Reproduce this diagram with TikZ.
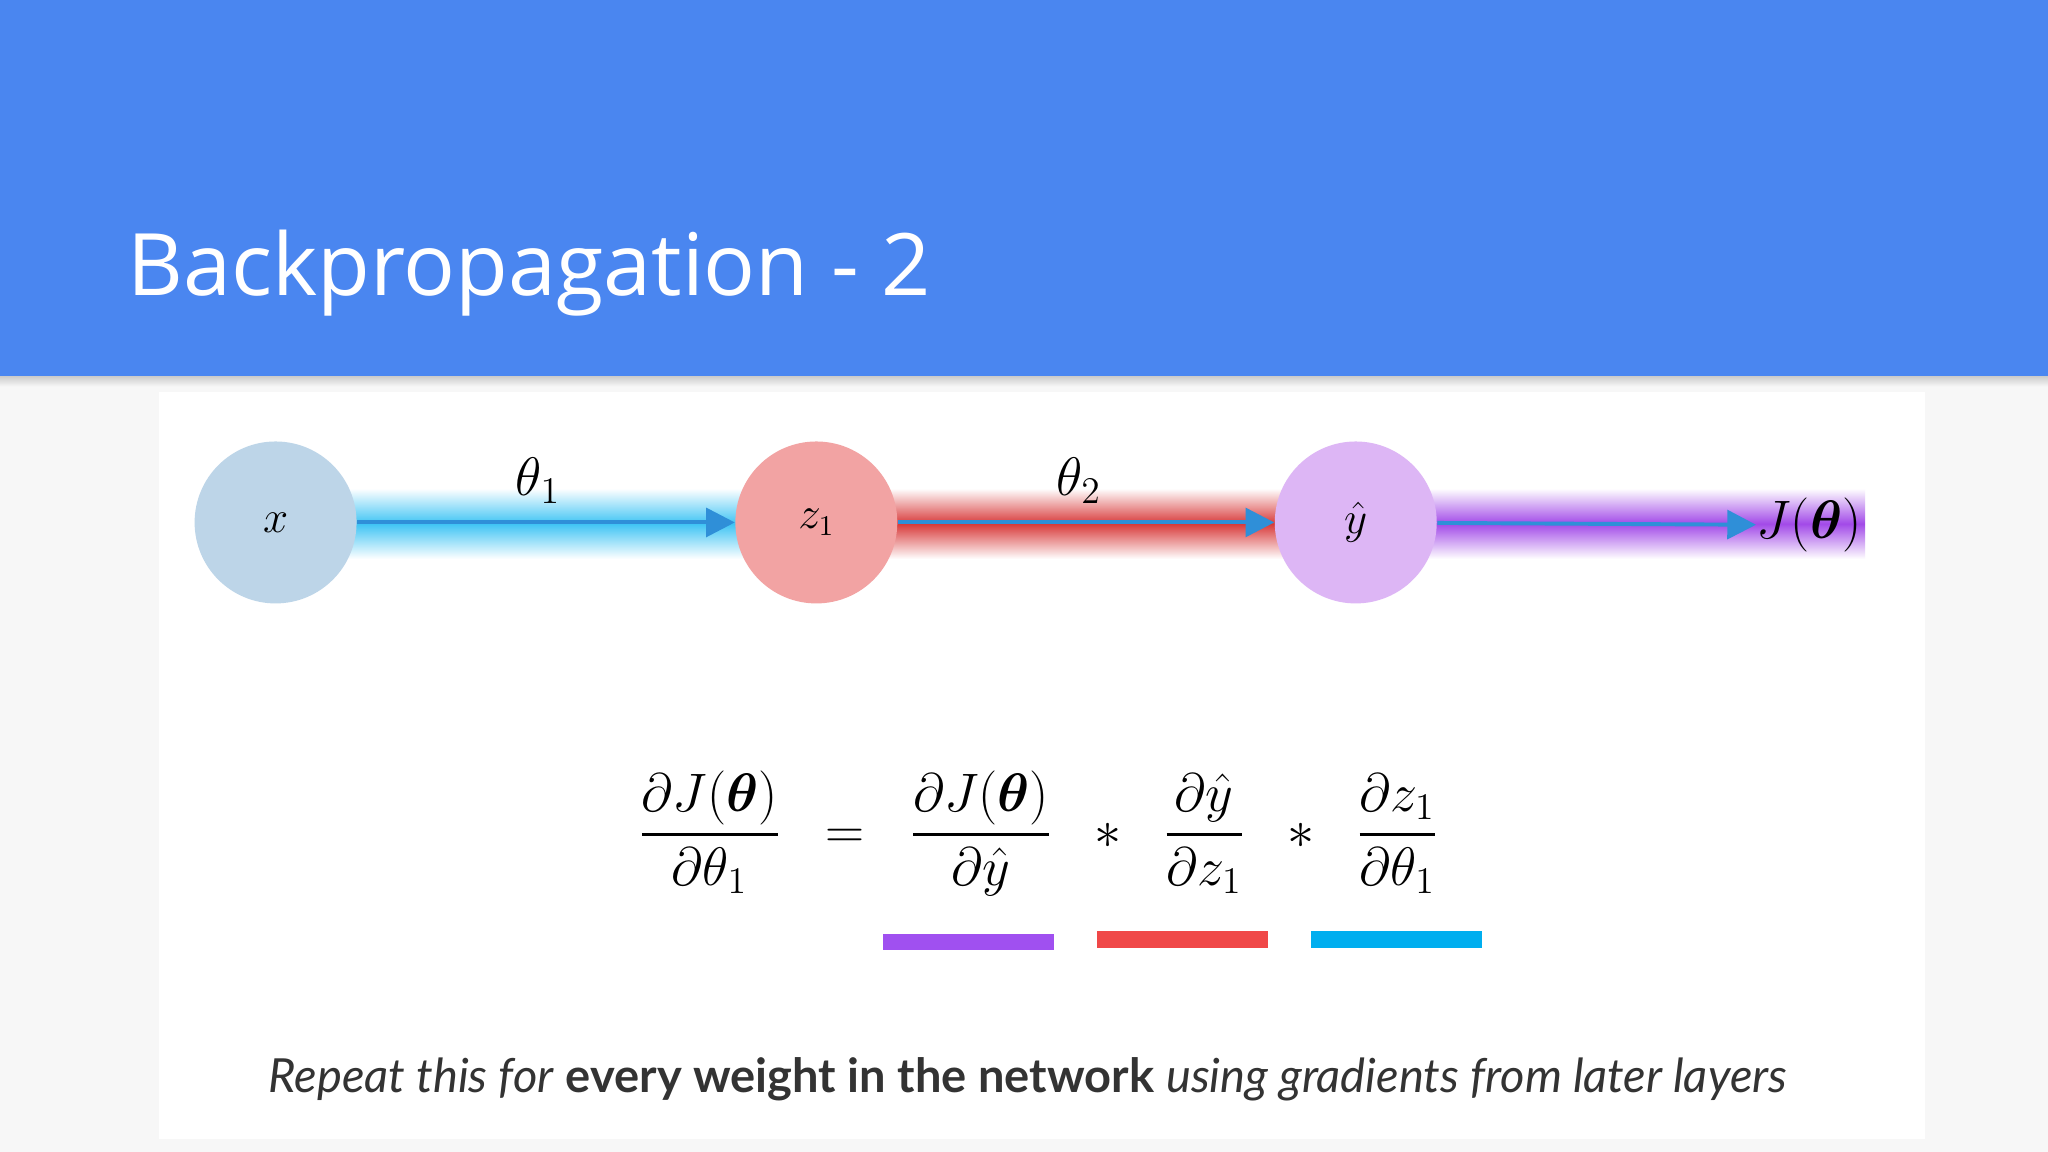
\documentclass[tikz,border=0pt]{standalone}
\usepackage{fontspec}
\usepackage{amsmath}
\setmainfont{Lato}
\newfontfamily\titlefont{Open Sans}
\usetikzlibrary{arrows.meta}
\definecolor{hdr}{HTML}{4A86F0}
\definecolor{cx}{HTML}{BDD5E8}
\definecolor{cz}{HTML}{F2A3A3}
\definecolor{cy}{HTML}{DDB6F5}
\definecolor{bblue}{HTML}{3FC4F4}
\definecolor{bred}{HTML}{D83A3A}
\definecolor{bpur}{HTML}{A24AE8}
\definecolor{arr}{HTML}{2F8FD8}
\definecolor{upur}{HTML}{A050F0}
\definecolor{ured}{HTML}{F04848}
\definecolor{ucyan}{HTML}{00AEEF}
\tikzset{
  neuron/.style={circle,minimum size=62pt,inner sep=0pt,font=\fontsize{16}{20}\selectfont},
  band/.style={top color=white,bottom color=white,middle color=#1,draw=none},
  flow/.style={arr,line width=1.5pt,-{Triangle[length=11pt,width=11pt]}},
}
\begin{document}
\begin{tikzpicture}[x=0.5pt,y=-0.5pt]
\useasboundingbox (0,0) rectangle (1568,882);
\fill[gray!6] (0,0) rectangle (1568,882);
\fill[white] (122,300) rectangle (1474,872);
\fill[hdr] (0,0) rectangle (1568,288);
\shade[top color=gray!40,bottom color=gray!6] (0,288) rectangle (1568,296);
\node[anchor=base west,text=white,font=\titlefont\fontsize{33}{38}\selectfont,inner sep=0pt] (title) at (97,226) {Backpropagation - 2};
% bands
\shade[band=bblue] (260,374) rectangle (580,428);
\shade[band=bred] (670,374) rectangle (990,428);
\shade[band=bpur] (1085,374) rectangle (1428,428);
% neurons
\node[neuron,fill=cx] (x) at (211,400) {$x$};
\node[neuron,fill=cz] (z) at (625,400) {$z_1$};
\node[neuron,fill=cy] (y) at (1038,400) {$\hat{y}$};
\node[font=\fontsize{20}{24}\selectfont,inner sep=0pt] (J) at (1385,402) {$J(\boldsymbol{\theta})$};
\draw[flow] (x) -- (z);
\draw[flow] (z) -- (y);
\draw[flow] (y) -- (J);
\node[font=\fontsize{20}{24}\selectfont] (t1) at (412,368) {$\theta_1$};
\node[font=\fontsize{20}{24}\selectfont] (t2) at (826,368) {$\theta_2$};
% equation
\node[font=\fontsize{21}{26}\selectfont] (eq) at (795,638) {$\displaystyle
\frac{\partial J(\boldsymbol{\theta})}{\partial\theta_1}\;\;=\;\;
\frac{\partial J(\boldsymbol{\theta})}{\partial\hat{y}}\;\;*\;\;
\frac{\partial\hat{y}}{\partial z_1}\;\;*\;\;
\frac{\partial z_1}{\partial\theta_1}$};
\fill[upur] (676,715) rectangle (807,727);
\fill[ured] (840,713) rectangle (971,726);
\fill[ucyan] (1004,713) rectangle (1135,726);
\node[font=\fontsize{18}{22}\selectfont,text=black!80] (cap) at (787,826) {\textit{Repeat this for} \textbf{every weight in the network} \textit{using gradients from later layers}};
\end{tikzpicture}
\end{document}
